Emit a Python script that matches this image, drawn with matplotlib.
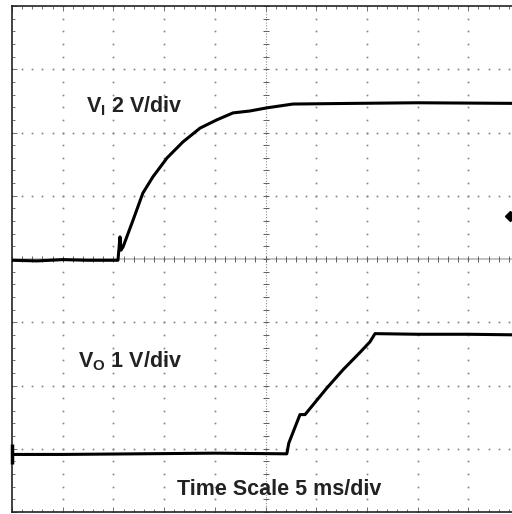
import numpy as np
import matplotlib.pyplot as plt

plt.rcParams['font.family'] = ['Liberation Sans', 'DejaVu Sans']
plt.rcParams['mathtext.fontset'] = 'custom'
plt.rcParams['mathtext.rm'] = 'Liberation Sans'
plt.rcParams['mathtext.bf'] = 'Liberation Sans:bold'

# traces, in scope divisions (x: 5 ms/div, y: screen divisions from centre)
vi_t = [0.0, 0.5, 1.0, 1.5, 2.09, 2.13, 2.15, 2.19, 2.39, 2.58, 2.78, 3.06, 3.37,
        3.71, 4.04, 4.36, 4.69, 5.03, 5.54, 6.67, 8.0, 10.0]
vi_v = [-0.02, -0.03, -0.01, -0.02, -0.02, 0.35, 0.14, 0.19, 0.62, 1.04, 1.30, 1.60, 1.85,
        2.07, 2.20, 2.31, 2.34, 2.39, 2.45, 2.46, 2.47, 2.46]

vo_t = [0.0, 1.0, 2.5, 4.0, 5.42, 5.46, 5.68, 5.78, 6.21, 6.53, 6.86, 7.06, 7.16,
        8.0, 9.0, 10.0]
vo_v = [-3.09, -3.09, -3.08, -3.07, -3.08, -2.91, -2.46, -2.46, -2.04, -1.75, -1.48,
        -1.31, -1.18, -1.19, -1.19, -1.20]

fig = plt.figure(figsize=(5.12, 5.14), dpi=100)
ax = fig.add_axes([12 / 512, 2 / 514, 507 / 512, 506 / 514])
ax.set_xlim(0, 10)
ax.set_ylim(-4, 4)

# graticule dots
dot = '#808080'
steps_x = np.arange(0, 10.01, 0.2)
steps_y = np.arange(-4, 4.01, 0.2)
for k in range(1, 10):
    if k == 5:
        continue
    ax.plot(np.full_like(steps_y, k), steps_y, 's', color=dot, ms=1.2, mew=0)
for k in range(-3, 4):
    if k == 0:
        continue
    ax.plot(steps_x, np.full_like(steps_x, k), 's', color=dot, ms=1.2, mew=0)

# centre lines with small ticks
ax.axhline(0, color='#b8b8b8', lw=1.2, zorder=1)
ax.axvline(5, color='#909090', lw=0.8, ls=(0, (1, 1.5)), zorder=1)
ax.plot(steps_x, np.zeros_like(steps_x), '|', color='#606060', ms=4.5, mew=0.7)
ax.plot(np.full_like(steps_y, 5), steps_y, '_', color='#606060', ms=4.5, mew=0.7)

# border ticks
ax.set_xticks(np.arange(0, 11, 1))
ax.set_yticks(np.arange(-4, 5, 1))
ax.set_xticks(steps_x, minor=True)
ax.set_yticks(steps_y, minor=True)
ax.tick_params(which='both', direction='in', top=True, bottom=True, left=True,
               right=False, labelbottom=False, labelleft=False, color='#707070')
ax.tick_params(which='major', length=3.5, width=0.7)
ax.tick_params(which='minor', length=2.5, width=0.7)
for s in ax.spines.values():
    s.set_linewidth(1.2)
    s.set_color('#222222')

# traces
ax.plot(vi_t, vi_v, color='black', lw=2.2, zorder=5)
ax.plot(vo_t, vo_v, color='black', lw=2.2, zorder=5)
ax.plot([0], [vo_v[0]], '|', color='black', ms=14, mew=2.5, zorder=6, clip_on=False)
ax.plot([9.82], [0.68], 'D', color='black', ms=5, zorder=6)

# labels
ax.text(1.46, 2.32, r'$\mathbf{V_I}$ 2 V/div', fontsize=15.5, fontweight='bold',
        color='#222222', va='baseline', ha='left')
ax.text(1.30, -1.71, r'$\mathbf{V_O}$ 1 V/div', fontsize=15.5, fontweight='bold',
        color='#222222', va='baseline', ha='left')
ax.text(3.25, -3.73, 'Time Scale 5 ms/div', fontsize=15.5, fontweight='bold',
        color='#222222', va='baseline', ha='left')

fig.savefig('out.png', dpi=100)
